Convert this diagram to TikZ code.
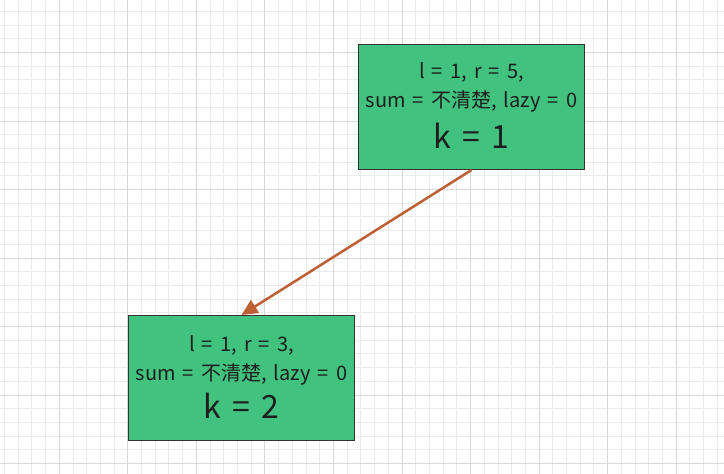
\documentclass[tikz,border=0pt]{standalone}
\usepackage{fontspec}
\setmainfont[WordSpace=1.6]{Noto Sans CJK SC}
\usetikzlibrary{arrows.meta,calc}
\definecolor{gridminor}{HTML}{EBEBEB}
\definecolor{gridmajor}{HTML}{D9D9D9}
\definecolor{boxgreen}{HTML}{42C27F}
\definecolor{boxline}{HTML}{333333}
\definecolor{arrowc}{HTML}{BD6036}
\definecolor{txt}{HTML}{1E1E1E}
\tikzset{
  minorline/.style={draw=gridminor, line width=1pt},
  majorline/.style={draw=gridmajor, line width=1pt},
  greenbox/.style={draw=boxline, fill=boxgreen, line width=1pt, minimum width=226pt, minimum height=125pt, inner sep=0pt},
  smalltext/.style={anchor=base, inner sep=0pt, text=txt, font=\fontsize{20}{24}\selectfont},
  bigtext/.style={anchor=base, inner sep=0pt, text=txt, font=\fontsize{32}{38}\selectfont},
  link/.style={draw=arrowc, line width=2.5pt, -{Triangle[length=16pt,width=15pt]}}
}
\begin{document}
\begin{tikzpicture}[x=1pt,y=-1pt]
\useasboundingbox (0,0) rectangle (724,474);
\fill[white] (0,0) rectangle (724,474);
\foreach \i in {0,...,52} {
  \draw[minorline] ({4.46+13.71*\i},0) -- ({4.46+13.71*\i},474);
}
\foreach \i in {0,...,34} {
  \draw[minorline] (0,{11.4+13.7*\i}) -- (724,{11.4+13.7*\i});
}
\foreach \i in {0,...,9} {
  \draw[majorline] ({59.3+68.55*\i},0) -- ({59.3+68.55*\i},474);
}
\foreach \i in {0,...,6} {
  \draw[majorline] (0,{52.5+68.5*\i}) -- (724,{52.5+68.5*\i});
}
\node[greenbox] (b1) at (471.5,107) {};
\node[greenbox] (b2) at (241.5,378) {};
\node[smalltext] (b1a) at ($(b1.north)+(0,34)$) {l = 1, r = 5,};
\node[smalltext] (b1b) at ($(b1.north)+(0,63.5)$) {sum = 不清楚, lazy = 0};
\node[bigtext] (b1c) at ($(b1.north)+(0,104)$) {k = 1};
\node[smalltext] (b2a) at ($(b2.north)+(0,36)$) {l = 1, r = 3,};
\node[smalltext] (b2b) at ($(b2.north)+(0,65.5)$) {sum = 不清楚, lazy = 0};
\node[bigtext] (b2c) at ($(b2.north)+(0,103)$) {k = 2};
\draw[link] (b1.south) -- (b2.north);
\end{tikzpicture}
\end{document}
